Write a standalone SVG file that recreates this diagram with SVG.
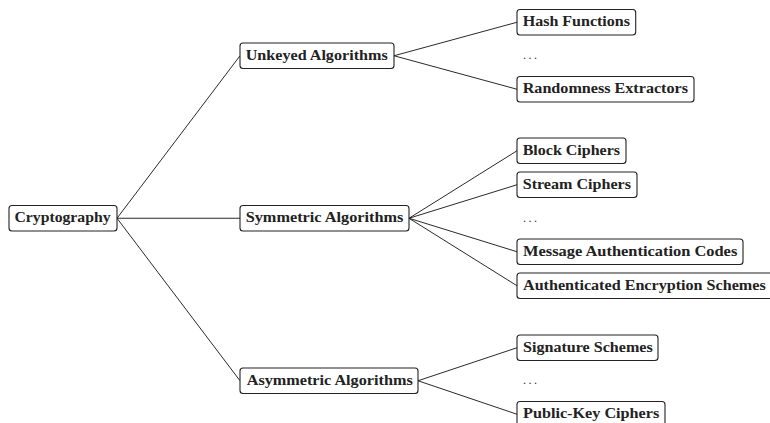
<svg xmlns="http://www.w3.org/2000/svg" width="770" height="423" viewBox="0 0 770 423">
<style>
.box{fill:#fff;stroke:#222;stroke-width:1.1}
.lbl{font-family:"Liberation Serif","Times New Roman",serif;font-weight:bold;font-size:14px;fill:#222}
.dots{font-family:"Liberation Serif","Times New Roman",serif;font-size:12px;fill:#333}
.edge{stroke:#111;stroke-width:0.9;fill:none}
</style>
<rect width="770" height="423" fill="#fff"/>
<g id="connectors">
<line class="edge" x1="117" y1="218.25" x2="240" y2="55.75"/>
<line class="edge" x1="117" y1="218.25" x2="240" y2="218.25"/>
<line class="edge" x1="117" y1="218.25" x2="240" y2="380.75"/>
<line class="edge" x1="394" y1="55.75" x2="517" y2="22.25"/>
<line class="edge" x1="394" y1="55.75" x2="517" y2="89.25"/>
<line class="edge" x1="409" y1="218.25" x2="517" y2="150.75"/>
<line class="edge" x1="409" y1="218.25" x2="517" y2="184.75"/>
<line class="edge" x1="409" y1="218.25" x2="517" y2="251.75"/>
<line class="edge" x1="409" y1="218.25" x2="517" y2="285.75"/>
<line class="edge" x1="418" y1="380.75" x2="517" y2="347.75"/>
<line class="edge" x1="418" y1="380.75" x2="517" y2="414.25"/>
</g>
<g id="cryptography">
<rect class="box" x="9" y="205.5" width="108" height="25.5" rx="3"/>
<text class="lbl" x="14.5" y="222.2" textLength="96" lengthAdjust="spacingAndGlyphs">Cryptography</text>
</g>
<g id="unkeyed">
<rect class="box" x="240" y="43" width="154" height="25.5" rx="3"/>
<text class="lbl" x="245.7" y="59.7" textLength="142" lengthAdjust="spacingAndGlyphs">Unkeyed Algorithms</text>
</g>
<g id="symmetric">
<rect class="box" x="240" y="205.5" width="169" height="25.5" rx="3"/>
<text class="lbl" x="245.7" y="222.2" textLength="157.7" lengthAdjust="spacingAndGlyphs">Symmetric Algorithms</text>
</g>
<g id="asymmetric">
<rect class="box" x="240" y="368" width="178" height="25.5" rx="3"/>
<text class="lbl" x="246.7" y="384.7" textLength="166" lengthAdjust="spacingAndGlyphs">Asymmetric Algorithms</text>
</g>
<g id="hash">
<rect class="box" x="517" y="9.5" width="118.7" height="25.5" rx="3"/>
<text class="lbl" x="522.7" y="26.2" textLength="107.3" lengthAdjust="spacingAndGlyphs">Hash Functions</text>
</g>
<g id="dots1"><text class="dots" x="523" y="59" textLength="14" lengthAdjust="spacing">. . .</text></g>
<g id="randomness">
<rect class="box" x="517" y="76.5" width="177" height="25.5" rx="3"/>
<text class="lbl" x="522.7" y="93.2" textLength="165.3" lengthAdjust="spacingAndGlyphs">Randomness Extractors</text>
</g>
<g id="block">
<rect class="box" x="517" y="138" width="109" height="25.5" rx="3"/>
<text class="lbl" x="522.7" y="154.7" textLength="97.3" lengthAdjust="spacingAndGlyphs">Block Ciphers</text>
</g>
<g id="stream">
<rect class="box" x="517" y="172" width="120" height="25.5" rx="3"/>
<text class="lbl" x="522.7" y="188.7" textLength="108.3" lengthAdjust="spacingAndGlyphs">Stream Ciphers</text>
</g>
<g id="dots2"><text class="dots" x="523" y="221.5" textLength="14" lengthAdjust="spacing">. . .</text></g>
<g id="mac">
<rect class="box" x="517" y="239" width="226" height="25.5" rx="3"/>
<text class="lbl" x="523" y="255.7" textLength="214.3" lengthAdjust="spacingAndGlyphs">Message Authentication Codes</text>
</g>
<g id="aes">
<rect class="box" x="517" y="273" width="258" height="25.5" rx="3"/>
<text class="lbl" x="523" y="289.7" textLength="242.7" lengthAdjust="spacingAndGlyphs">Authenticated Encryption Schemes</text>
</g>
<g id="signature">
<rect class="box" x="517" y="335" width="141" height="25.5" rx="3"/>
<text class="lbl" x="523" y="351.7" textLength="129.7" lengthAdjust="spacingAndGlyphs">Signature Schemes</text>
</g>
<g id="dots3"><text class="dots" x="523" y="384" textLength="14" lengthAdjust="spacing">. . .</text></g>
<g id="publickey">
<rect class="box" x="517" y="401.5" width="148" height="25.5" rx="3"/>
<text class="lbl" x="523" y="418.2" textLength="136.3" lengthAdjust="spacingAndGlyphs">Public-Key Ciphers</text>
</g>
</svg>
